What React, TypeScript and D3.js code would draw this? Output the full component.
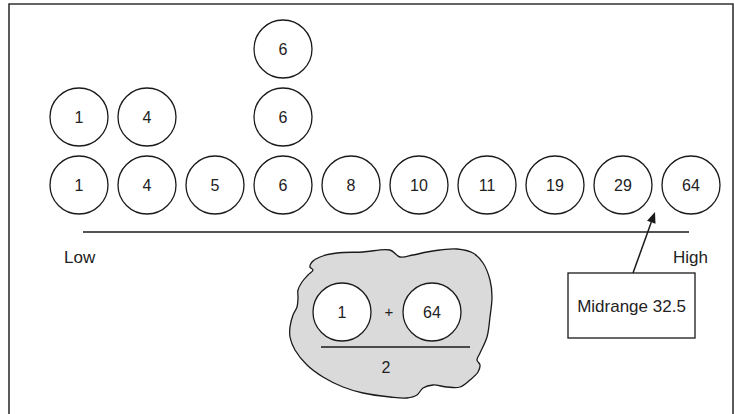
import React from "react";
import * as d3 from "d3";

const values = [1, 1, 4, 4, 5, 6, 6, 6, 8, 10, 11, 19, 29, 64];
const uniqueValues = [1, 4, 5, 6, 8, 10, 11, 19, 29, 64];
const lowValue = 1;
const highValue = 64;
const midrange = (lowValue + highValue) / 2;
const blobPoints: [number, number][] = [
  [390, 250], [363, 252], [337, 253], [320, 257], [312, 262], [310, 267], [313, 270],
  [308, 275], [302, 282], [298, 290], [298, 298], [297, 307], [293, 315], [290, 327],
  [290, 337], [295, 350], [307, 365], [323, 377], [343, 387], [363, 393], [390, 397],
  [407, 398], [417, 395], [423, 388], [433, 385], [447, 387], [460, 387], [470, 380],
  [478, 372], [480, 365], [477, 360], [480, 353], [487, 337], [490, 317], [492, 297],
  [490, 280], [483, 263], [473, 253], [457, 249], [440, 250], [427, 252], [413, 255],
  [400, 257],
];

const W = 734;
const H = 414;
const R = 29;
const FONT = "'Liberation Sans', Arial, Helvetica, sans-serif";
const STROKE = "#1a1a1a";

export default function App() {
  const x = d3.scalePoint<number>().domain(uniqueValues).range([79, 691]);
  const y = d3.scaleLinear().domain([0, 2]).range([185, 49]);

  const counts = new Map<number, number>();
  const circles = values.map((v) => {
    const k = counts.get(v) || 0;
    counts.set(v, k + 1);
    return { v, k };
  });

  const blobPath = d3.line().curve(d3.curveCatmullRomClosed.alpha(0.5))(blobPoints) || "";

  // arrow
  const ax0 = 633, ay0 = 273, ax1 = 655, ay1 = 212;
  const ang = Math.atan2(ay1 - ay0, ax1 - ax0);
  const hl = 11, hw = 4.5;
  const bx = ax1 - hl * Math.cos(ang), by = ay1 - hl * Math.sin(ang);
  const head = [
    [ax1, ay1],
    [bx + hw * Math.sin(ang), by - hw * Math.cos(ang)],
    [bx - hw * Math.sin(ang), by + hw * Math.cos(ang)],
  ];

  return (
    <svg
      width={W}
      height={H}
      style={{ position: "absolute", left: 0, top: 0, background: "#fff" }}
      fontFamily={FONT}
    >
      <rect x={0} y={0} width={W} height={H} fill="#fff" />
      {/* frame */}
      <path d={`M9,${H + 2} V4 H733 V${H + 2}`} fill="none" stroke="#333" strokeWidth={1.6} />

      {circles.map((c, i) => (
        <g key={i}>
          <circle cx={x(c.v)} cy={y(c.k)} r={R} fill="#fff" stroke={STROKE} strokeWidth={1.3} />
          <text x={x(c.v)} y={y(c.k)} dy="0.36em" textAnchor="middle" fontSize={16} fill="#222">
            {c.v}
          </text>
        </g>
      ))}

      <line x1={83} x2={689} y1={232} y2={232} stroke={STROKE} strokeWidth={1.5} />
      <text x={64} y={263} fontSize={17} fill="#222">Low</text>
      <text x={673} y={263} fontSize={17} fill="#222">High</text>

      {/* blob */}
      <path d={blobPath} fill="#dadada" stroke={STROKE} strokeWidth={1.3} />
      <circle cx={342} cy={312} r={R} fill="#fff" stroke={STROKE} strokeWidth={1.3} />
      <text x={342} y={312} dy="0.36em" textAnchor="middle" fontSize={16} fill="#222">{lowValue}</text>
      <text x={389} y={312} dy="0.36em" textAnchor="middle" fontSize={15} fill="#222">+</text>
      <circle cx={432} cy={312} r={R} fill="#fff" stroke={STROKE} strokeWidth={1.3} />
      <text x={432} y={312} dy="0.36em" textAnchor="middle" fontSize={16} fill="#222">{highValue}</text>
      <line x1={321} x2={470} y1={347} y2={347} stroke={STROKE} strokeWidth={1.5} />
      <text x={386} y={367} dy="0.36em" textAnchor="middle" fontSize={16} fill="#222">2</text>

      {/* midrange box */}
      <rect x={568} y={273} width={127} height={65} fill="#fff" stroke={STROKE} strokeWidth={1.3} />
      <text x={631.5} y={312} textAnchor="middle" fontSize={17} fill="#222">
        {`Midrange ${midrange}`}
      </text>
      <line x1={ax0} y1={ay0} x2={bx} y2={by} stroke={STROKE} strokeWidth={1.5} />
      <polygon points={head.map((p) => p.join(",")).join(" ")} fill={STROKE} />
    </svg>
  );
}
